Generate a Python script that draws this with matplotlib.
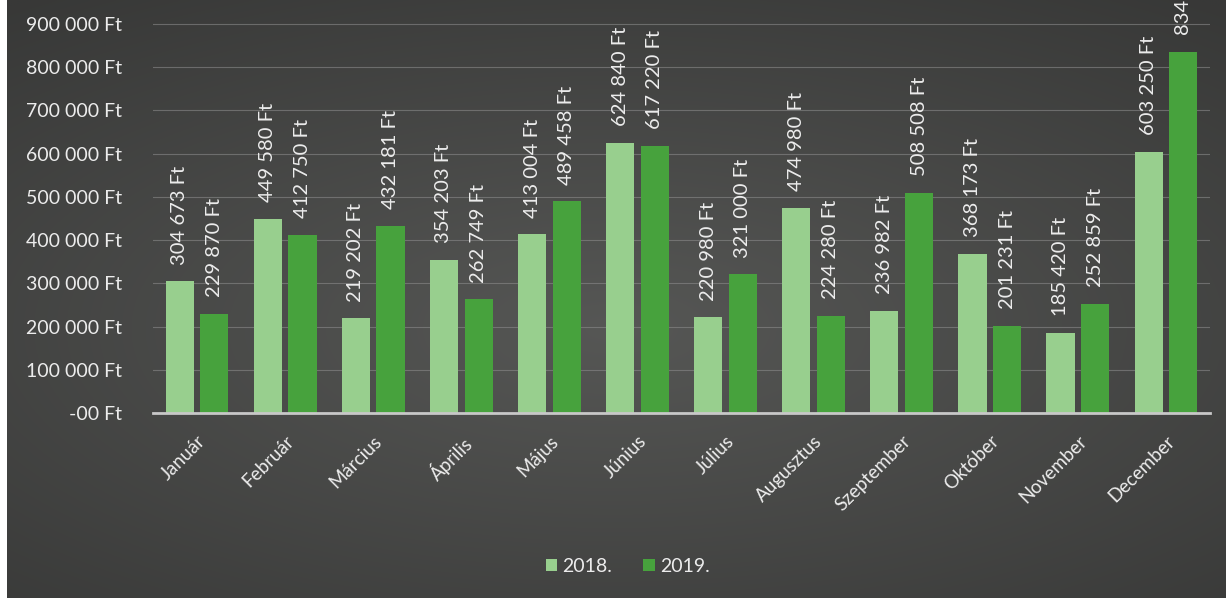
import numpy as np
import matplotlib
matplotlib.use("Agg")
import matplotlib.pyplot as plt
from matplotlib.patches import Rectangle

# data
months = ["Január", "Február", "Március", "Április", "Május", "Június",
          "Július", "Augusztus", "Szeptember", "Október", "November", "December"]
vals_2018 = [304673, 449580, 219202, 354203, 413004, 624840,
             220980, 474980, 236982, 368173, 185420, 603250]
vals_2019 = [229870, 412750, 432181, 262749, 489458, 617220,
             321000, 224280, 508508, 201231, 252859, 834720]
ytick_vals = [0, 100000, 200000, 300000, 400000, 500000, 600000, 700000, 800000, 900000]
ytick_labels = ["-00 Ft", "100 000 Ft", "200 000 Ft", "300 000 Ft", "400 000 Ft",
                "500 000 Ft", "600 000 Ft", "700 000 Ft", "800 000 Ft", "900 000 Ft"]
series_names = ["2018.", "2019."]

C_LIGHT = "#98cf8e"
C_DARK = "#47a23d"
TXT = "#ececec"

plt.rcParams['font.family'] = ['Lato', 'DejaVu Sans']
FS_TICK = 14
FS_VAL = 14.5
FS_X = 13.5


def fmt(v):
    return f"{v:,}".replace(",", " ") + " Ft"


fig = plt.figure(figsize=(12.26, 5.98), dpi=100)

# radial gradient background (darker toward the edges)
bg = fig.add_axes([0, 0, 1, 1], zorder=-10)
yy, xx = np.mgrid[-1:1:300j, -1:1:600j]
r = np.sqrt((xx * 0.85) ** 2 + (yy * 1.0 - 0.1) ** 2)
shade = np.clip(86 - 22 * r, 56, 90) / 255.0
img = np.dstack([shade, shade * 1.01, shade * 0.99])
bg.imshow(np.clip(img, 0, 1), aspect="auto", extent=[0, 1, 0, 1], interpolation="bilinear")
bg.axis("off")
# white scanner strip on the left
fig.patches.append(Rectangle((0, 0), 7 / 1226, 1, transform=fig.transFigure,
                             facecolor="white", edgecolor="none", zorder=-5))

ax = fig.add_axes([153 / 1226, 1 - 413 / 598, (1210 - 153) / 1226, 413 / 598])
ax.patch.set_alpha(0)

x = np.arange(len(months))
w = 0.32
off = 0.197
b1 = ax.bar(x - off, vals_2018, w, color=C_LIGHT, label=series_names[0], zorder=3)
b2 = ax.bar(x + off, vals_2019, w, color=C_DARK, label=series_names[1], zorder=3)

for bars, vals in [(b1, vals_2018), (b2, vals_2019)]:
    for rect, v in zip(bars, vals):
        ax.annotate(fmt(v), (rect.get_x() + rect.get_width() / 2, v),
                    xytext=(0, 12), textcoords="offset points",
                    rotation=90, ha="center", va="bottom",
                    color=TXT, fontsize=FS_VAL, annotation_clip=False)

ax.set_xlim(-0.5, len(months) - 0.5)
ax.set_ylim(0, 955000)
ax.set_yticks(ytick_vals)
ax.set_yticklabels(ytick_labels, color=TXT, fontsize=FS_TICK)
ax.set_xticks(x)
ax.set_xticklabels(months, rotation=45, ha="right", rotation_mode="anchor",
                   color=TXT, fontsize=FS_X)
ax.tick_params(axis="both", length=0)
ax.tick_params(axis="y", pad=22)
ax.tick_params(axis="x", pad=14)

ax.grid(axis="y", color="#8a8a8a", linewidth=0.8, alpha=0.6, zorder=0)
for s in ["top", "right", "left"]:
    ax.spines[s].set_visible(False)
ax.spines["bottom"].set_color("#c8c8c8")
ax.spines["bottom"].set_linewidth(2)
ax.spines["bottom"].set_zorder(4)

leg = fig.legend(loc="center", bbox_to_anchor=(0.512, 0.053), ncol=2, frameon=False,
                 fontsize=FS_TICK, handlelength=0.6, handleheight=0.6, handletextpad=0.25,
                 columnspacing=1.6)
for t in leg.get_texts():
    t.set_color(TXT)

fig.savefig("out.png", dpi=100)
